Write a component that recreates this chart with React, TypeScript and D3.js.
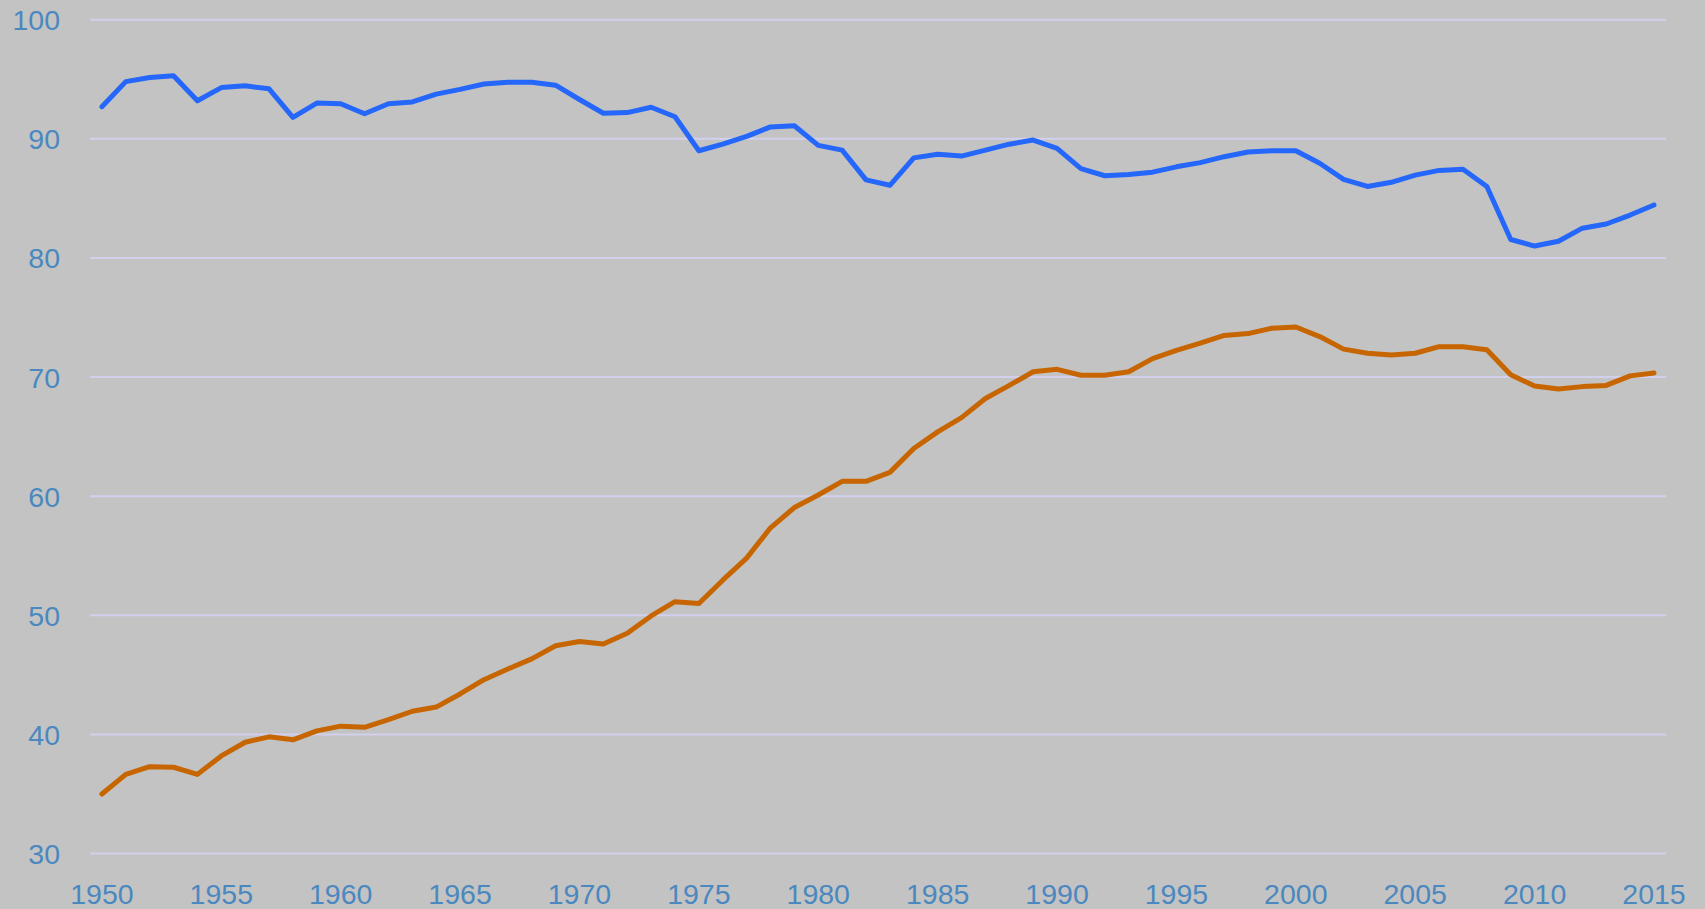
import React from "react";
import * as d3 from "d3";

const years: number[] = [
  1950, 1951, 1952, 1953, 1954, 1955, 1956, 1957, 1958, 1959,
  1960, 1961, 1962, 1963, 1964, 1965, 1966, 1967, 1968, 1969,
  1970, 1971, 1972, 1973, 1974, 1975, 1976, 1977, 1978, 1979,
  1980, 1981, 1982, 1983, 1984, 1985, 1986, 1987, 1988, 1989,
  1990, 1991, 1992, 1993, 1994, 1995, 1996, 1997, 1998, 1999,
  2000, 2001, 2002, 2003, 2004, 2005, 2006, 2007, 2008, 2009,
  2010, 2011, 2012, 2013, 2014, 2015,
];

const blueSeries: number[] = [
  92.7, 94.8, 95.15, 95.3, 93.2, 94.3, 94.45, 94.2, 91.8, 93.0,
  92.95, 92.1, 92.95, 93.1, 93.75, 94.15, 94.6, 94.75, 94.75, 94.5,
  93.3, 92.15, 92.2, 92.65, 91.85, 89.0, 89.55, 90.2, 91.0, 91.1,
  89.45, 89.05, 86.55, 86.1, 88.4, 88.7, 88.55, 89.05, 89.55, 89.9,
  89.2, 87.5, 86.9, 87.0, 87.2, 87.65, 88.0, 88.5, 88.9, 89.0,
  89.0, 87.95, 86.6, 86.0, 86.35, 86.95, 87.35, 87.45, 86.0, 81.55,
  81.0, 81.4, 82.5, 82.85, 83.6, 84.45,
];

const orangeSeries: number[] = [
  35.0, 36.65, 37.3, 37.25, 36.65, 38.2, 39.35, 39.8, 39.55, 40.3,
  40.7, 40.6, 41.25, 41.95, 42.3, 43.4, 44.6, 45.5, 46.35, 47.45,
  47.8, 47.6, 48.5, 49.95, 51.15, 51.0, 52.95, 54.8, 57.35, 59.05,
  60.1, 61.25, 61.25, 62.0, 64.0, 65.4, 66.6, 68.2, 69.3, 70.45,
  70.65, 70.15, 70.15, 70.45, 71.55, 72.25, 72.85, 73.5, 73.65, 74.1,
  74.2, 73.4, 72.35, 72.0, 71.85, 72.0, 72.55, 72.55, 72.3, 70.2,
  69.25, 69.0, 69.2, 69.3, 70.1, 70.35,
];

const yTicks: number[] = [30, 40, 50, 60, 70, 80, 90, 100];
const xTickYears: number[] = [
  1950, 1955, 1960, 1965, 1970, 1975, 1980, 1985, 1990, 1995, 2000, 2005, 2010, 2015,
];

const W = 1705;
const H = 909;
const BG = "#c3c3c3";
const GRID = "#d3d0ee";
const TEXT = "#4a88bf";
const BLUE = "#2467fa";
const ORANGE = "#c76600";
const FONT = "'Liberation Sans', Arial, sans-serif";

export default function App() {
  const plotLeft = 90;
  const plotRight = 1666;
  const x = d3.scalePoint<number>().domain(years).range([101.9, 1654]);
  const y = d3.scaleLinear().domain([30, 100]).range([853.6, 19.7]);

  const line = d3
    .line<number>()
    .x((_, i) => x(years[i]) as number)
    .y((d) => y(d));

  return (
    <svg
      width={W}
      height={H}
      style={{ position: "absolute", left: 0, top: 0, display: "block" }}
    >
      <rect x={0} y={0} width={W} height={H} fill={BG} />
      {yTicks.map((t) => (
        <g key={t}>
          <line
            x1={plotLeft}
            x2={plotRight}
            y1={y(t)}
            y2={y(t)}
            stroke={GRID}
            strokeWidth={2}
          />
          <text
            x={60}
            y={y(t) + 10.5}
            textAnchor="end"
            fill={TEXT}
            fontFamily={FONT}
            fontSize={28.5}
          >
            {t}
          </text>
        </g>
      ))}
      {xTickYears.map((yr) => (
        <text
          key={yr}
          x={x(yr) as number}
          y={904.3}
          textAnchor="middle"
          fill={TEXT}
          fontFamily={FONT}
          fontSize={28.5}
        >
          {yr}
        </text>
      ))}
      <path
        d={line(blueSeries) || ""}
        fill="none"
        stroke={BLUE}
        strokeWidth={5}
        strokeLinejoin="round"
        strokeLinecap="round"
      />
      <path
        d={line(orangeSeries) || ""}
        fill="none"
        stroke={ORANGE}
        strokeWidth={5}
        strokeLinejoin="round"
        strokeLinecap="round"
      />
    </svg>
  );
}
